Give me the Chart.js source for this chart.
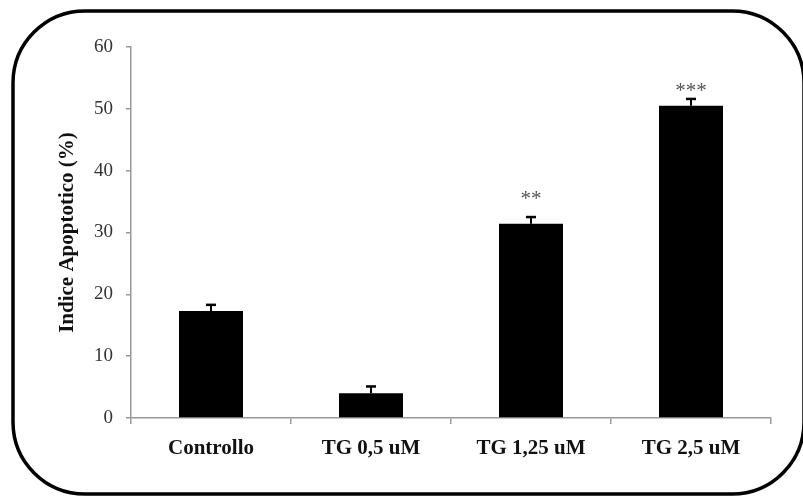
<!DOCTYPE html>
<html>
<head>
<meta charset="utf-8">
<script src="https://cdn.jsdelivr.net/npm/chart.js@4"></script>
<style>
html,body{margin:0;padding:0;background:#fff;}
canvas{display:block;}
</style>
</head>
<body>
<canvas id="c" width="803" height="496"></canvas>
<script>
const categories = ["Controllo", "TG 0,5 uM", "TG 1,25 uM", "TG 2,5 uM"];
const values = [17.3, 4.0, 31.4, 50.5];
const errors = [1.0, 1.1, 1.1, 1.1];
const significance = ["", "", "**", "***"];
const significanceLevel = [null, null, 35.6, 53.2];
const yTicks = [0, 10, 20, 30, 40, 50, 60];
const yTitle = "Indice Apoptotico (%)";

const frame = {
  id: 'frame',
  beforeDraw(chart) {
    const ctx = chart.ctx;
    ctx.save();
    ctx.fillStyle = '#fff';
    ctx.fillRect(0, 0, chart.width, chart.height);
    ctx.restore();
  },
  afterDraw(chart) {
    const ctx = chart.ctx;
    ctx.save();
    ctx.strokeStyle = '#000';
    ctx.lineWidth = 3.5;
    ctx.beginPath();
    ctx.roundRect(13, 11, 791, 483, 72);
    ctx.stroke();
    ctx.restore();
  }
};

const errorBars = {
  id: 'errorBars',
  afterDatasetsDraw(chart) {
    const ctx = chart.ctx;
    const meta = chart.getDatasetMeta(0);
    const y = chart.scales.y;
    ctx.save();
    ctx.strokeStyle = '#000';
    meta.data.forEach((bar, i) => {
      const top = y.getPixelForValue(values[i] + errors[i]);
      const base = y.getPixelForValue(values[i]);
      ctx.lineWidth = 2;
      ctx.beginPath();
      ctx.moveTo(bar.x, base);
      ctx.lineTo(bar.x, top);
      ctx.stroke();
      ctx.lineWidth = 2.5;
      ctx.beginPath();
      ctx.moveTo(bar.x - 5, top);
      ctx.lineTo(bar.x + 5, top);
      ctx.stroke();
      if (significance[i]) {
        ctx.fillStyle = '#555';
        ctx.font = '21px "Liberation Serif", serif';
        ctx.textAlign = 'center';
        ctx.textBaseline = 'middle';
        ctx.fillText(significance[i], bar.x, y.getPixelForValue(significanceLevel[i]) + 2);
      }
    });
    ctx.restore();
  }
};

new Chart(document.getElementById('c'), {
  type: 'bar',
  data: {
    labels: categories,
    datasets: [{
      data: values,
      backgroundColor: '#000',
      borderWidth: 0,
      barPercentage: 0.4,
      categoryPercentage: 1.0
    }]
  },
  options: {
    responsive: false,
    animation: false,
    layout: { padding: { left: 50, right: 32, top: 47, bottom: 0 } },
    plugins: { legend: { display: false }, tooltip: { enabled: false } },
    scales: {
      y: {
        min: 0, max: 60,
        afterBuildTicks(scale) { scale.ticks = yTicks.map(v => ({ value: v })); },
        afterFit(scale) { scale.width = 81; },
        border: { display: true, color: '#999', width: 1.5 },
        grid: { drawOnChartArea: false, drawTicks: true, tickLength: 5, color: '#999', lineWidth: 1.5 },
        ticks: {
          padding: 13,
          color: '#333',
          font: { family: '"Liberation Serif", serif', size: 19 }
        },
        title: {
          display: true,
          text: yTitle,
          color: '#111',
          padding: { top: 5, bottom: 0 },
          font: { family: '"Liberation Serif", serif', size: 21, weight: 'bold' }
        }
      },
      x: {
        afterFit(scale) { scale.height = 78; },
        border: { display: true, color: '#999', width: 1.5 },
        grid: { drawOnChartArea: false, drawTicks: true, tickLength: 6, color: '#999', lineWidth: 1.5, offset: true },
        ticks: {
          padding: 12,
          color: '#111',
          font: { family: '"Liberation Serif", serif', size: 21, weight: 'bold' }
        }
      }
    }
  },
  plugins: [frame, errorBars]
});
</script>
</body>
</html>
